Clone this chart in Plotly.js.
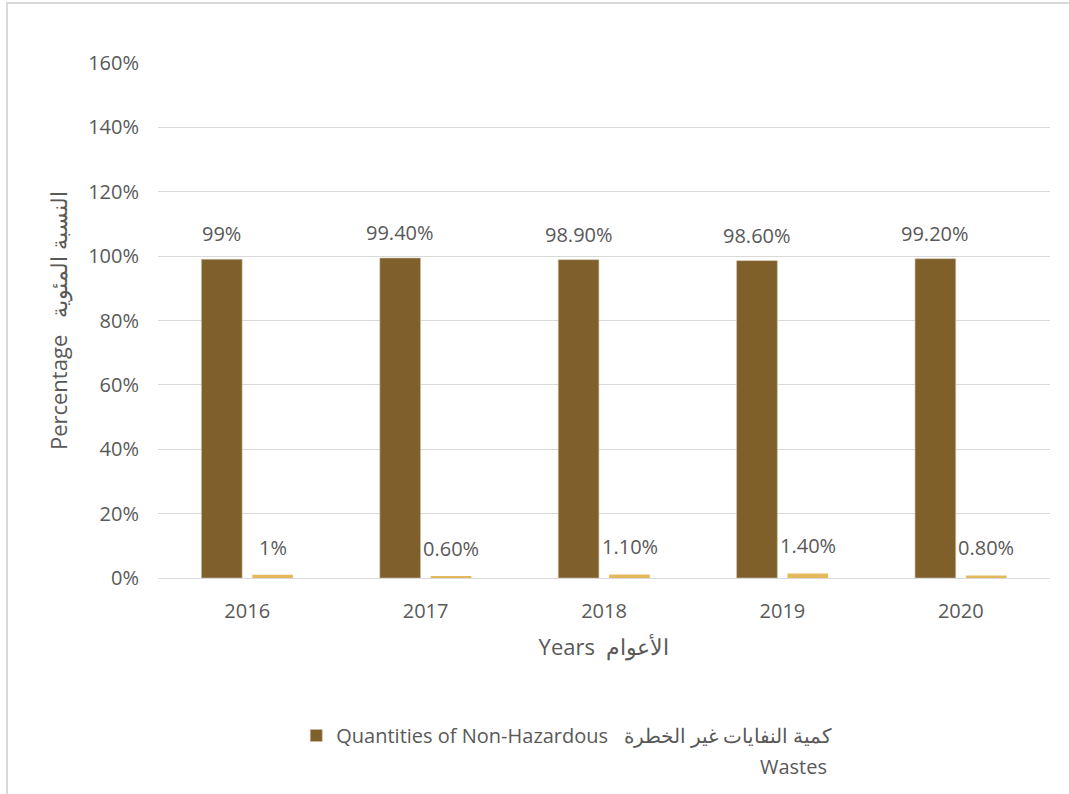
<!DOCTYPE html>
<html>
<head>
<meta charset="utf-8">
<script src="https://cdn.plot.ly/plotly-3.0.1.min.js"></script>
<style>
  html, body { margin: 0; padding: 0; background: #fff; }
  #frame { position: absolute; left: 6px; top: 2px; width: 1063px; height: 792px;
           border-top: 2px solid #D9D9D9; border-left: 2px solid #D9D9D9; box-sizing: border-box; }
  #chart { position: absolute; left: 0; top: 0; width: 1069px; height: 794px; }
</style>
</head>
<body>
<div id="frame"></div>
<div id="chart"></div>
<script>
const years = ['2016', '2017', '2018', '2019', '2020'];
const nonHazardous = [0.99, 0.994, 0.989, 0.986, 0.992];
const hazardous = [0.01, 0.006, 0.011, 0.014, 0.008];
const nonHazardousLabels = ['99%', '99.40%', '98.90%', '98.60%', '99.20%'];
const hazardousLabels = ['1%', '0.60%', '1.10%', '1.40%', '0.80%'];
const legendName = 'Quantities of Non-Hazardous   كمية النفايات غير الخطرة';
const legendName2 = 'Wastes';

const FONT = 'Open Sans, Noto Sans, sans-serif';
const TXT = '#595959';
const DARK = '#7F5F2A';
const LIGHT = '#E3B95C';

const traces = [
  { type: 'bar', x: years, y: nonHazardous, name: legendName,
    marker: { color: DARK, line: { color: '#C9BFA8', width: 0.6 } }, hoverinfo: 'x+y' },
  { type: 'bar', x: years, y: hazardous, name: 'Hazardous', showlegend: false,
    marker: { color: LIGHT }, hoverinfo: 'x+y' }
];

const annotations = [];
years.forEach((yr, i) => {
  annotations.push({ x: i, y: nonHazardous[i], xref: 'x', yref: 'y', text: nonHazardousLabels[i],
    showarrow: false, xshift: -25.5, yanchor: 'bottom', yshift: 10,
    font: { family: FONT, size: 20, color: TXT } });
  annotations.push({ x: i, y: hazardous[i], xref: 'x', yref: 'y', text: hazardousLabels[i],
    showarrow: false, xshift: 25.5, yanchor: 'bottom', yshift: 12,
    font: { family: FONT, size: 20, color: TXT } });
});
annotations.push({ xref: 'paper', yref: 'paper', x: 0.752, y: -0.335, xanchor: 'right', yanchor: 'top',
  text: legendName2, showarrow: false, font: { family: FONT, size: 20, color: TXT } });

const layout = {
  width: 1069, height: 794,
  margin: { l: 158, r: 19, t: 63, b: 216 },
  paper_bgcolor: 'rgba(0,0,0,0)', plot_bgcolor: 'rgba(0,0,0,0)',
  font: { family: FONT, size: 20, color: TXT },
  barmode: 'group', bargap: 0.43, bargroupgap: 0.2,
  showlegend: true,
  legend: { orientation: 'h', x: 0.155, xanchor: 'left', y: -0.268, yanchor: 'top',
            font: { family: FONT, size: 20, color: TXT }, itemwidth: 30 },
  xaxis: { type: 'category', range: [-0.5, 4.5], autorange: false, showgrid: false, showline: true,
           linecolor: '#D9D9D9', linewidth: 1,
           ticks: '', ticklabelstandoff: 15,
           tickfont: { family: FONT, size: 20, color: TXT },
           title: { text: 'Years  الأعوام', font: { family: FONT, size: 22, color: TXT }, standoff: 16 } },
  yaxis: { range: [0, 1.6], autorange: false, dtick: 0.2, tickformat: '.0%', showgrid: true,
           gridcolor: '#D9D9D9', gridwidth: 1,
           zeroline: false, showline: false, ticks: '', ticklabelstandoff: 18,
           tickfont: { family: FONT, size: 20, color: TXT },
           title: { text: 'Percentage   النسبة المئوية', font: { family: FONT, size: 22, color: TXT }, standoff: 14 } },
  annotations: annotations
};

Plotly.newPlot('chart', traces, layout, { displayModeBar: false, responsive: false });
</script>
</body>
</html>
